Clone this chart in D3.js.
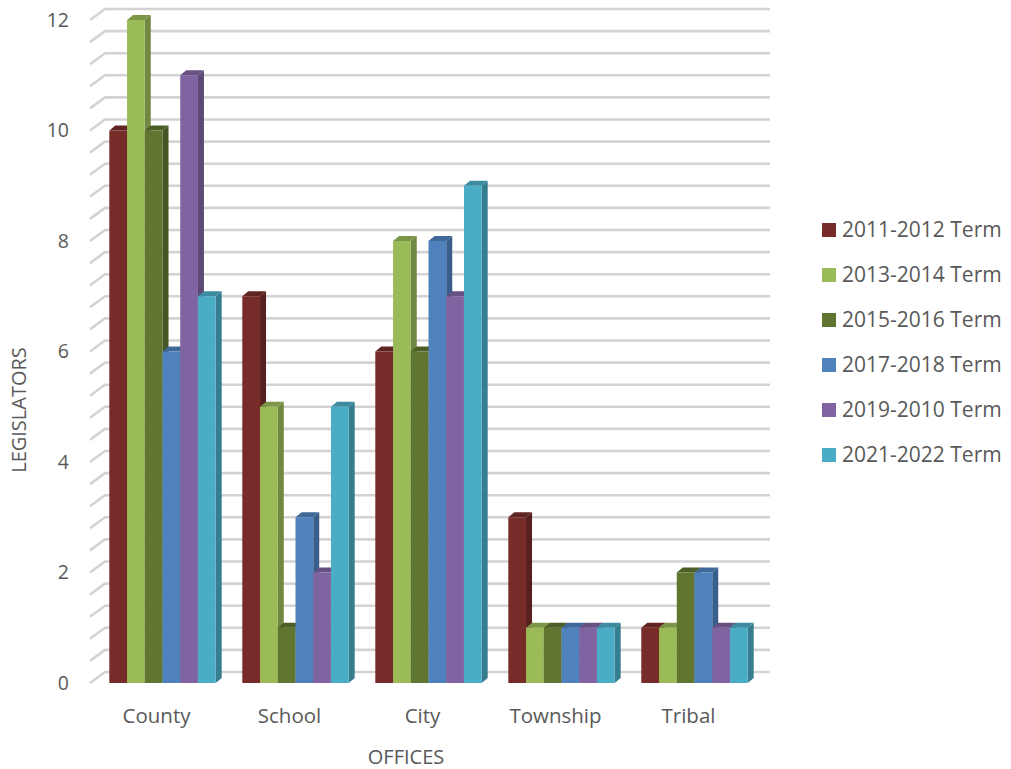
<!DOCTYPE html>
<html>
<head>
<meta charset="utf-8">
<script src="https://cdn.jsdelivr.net/npm/d3@7"></script>
<style>
  html, body { margin: 0; padding: 0; background: #fff; }
  svg { display: block; font-family: "Open Sans", sans-serif; }
</style>
</head>
<body>
<svg id="chart" width="1011" height="769"></svg>
<script>
const categories = ["County", "School", "City", "Township", "Tribal"];
const seriesNames = ["2011-2012 Term", "2013-2014 Term", "2015-2016 Term", "2017-2018 Term", "2019-2010 Term", "2021-2022 Term"];
const seriesColors = ["#772C2A", "#9BBB59", "#5F7530", "#4F81BD", "#8064A2", "#4BACC6"];
const s2011 = [10, 7, 6, 3, 1];
const s2013 = [12, 5, 8, 1, 1];
const s2015 = [10, 1, 6, 1, 2];
const s2017 = [6, 3, 8, 1, 2];
const s2019 = [11, 2, 7, 1, 1];
const s2021 = [7, 5, 9, 1, 1];
const seriesValues = [s2011, s2013, s2015, s2017, s2019, s2021];
const yTickLabels = [0, 2, 4, 6, 8, 10, 12];
const gridStep = 0.4;

const svg = d3.select("#chart");
const textColor = "#595959";

const plot = { left: 90, right: 755, top: 20, bottom: 683 };
const wall = { dx: 15, dy: -11 };
const barDepth = { dx: 6, dy: -5 };

const y = d3.scaleLinear().domain([0, 12]).range([plot.bottom, plot.top]);
const xFloor = d3.scaleBand().domain(categories).range([plot.left, plot.right]);
const x0 = d3.scaleBand().domain(categories).range([plot.left + 6, plot.right + 6])
  .paddingInner(0.2).paddingOuter(0.1);
const x1 = d3.scaleBand().domain(seriesNames).range([0, x0.bandwidth()]);

// gridlines
const gridVals = d3.range(0, 12 + 1e-6, gridStep);
const grid = svg.append("g");
gridVals.forEach(v => {
  const yy = y(v);
  grid.append("path")
    .attr("d", `M${plot.left},${yy} L${plot.left + wall.dx},${yy + wall.dy} L${plot.right + wall.dx},${yy + wall.dy}`)
    .attr("fill", "none")
    .attr("stroke", "#d3d3d3")
    .attr("stroke-width", 2.6)
    .attr("stroke-linejoin", "round");
});

// y tick labels
svg.append("g").selectAll("text").data(yTickLabels).join("text")
  .attr("x", 69)
  .attr("y", d => y(d))
  .attr("dy", "0.35em")
  .attr("text-anchor", "end")
  .attr("font-size", 19.5)
  .attr("fill", textColor)
  .text(d => d);

// bars
const shade = (c, k) => d3.color(c).darker(k).formatHex();
const barsG = svg.append("g");
categories.forEach((cat, ci) => {
  seriesNames.forEach((s, si) => {
    const v = seriesValues[si][ci];
    const xl = x0(cat) + x1(s);
    const w = x1.bandwidth();
    const yt = y(v), yb = y(0);
    const col = seriesColors[si];
    const g = barsG.append("g");
    g.append("path")
      .attr("d", `M${xl + w},${yt} L${xl + w + barDepth.dx},${yt + barDepth.dy} L${xl + w + barDepth.dx},${yb + barDepth.dy} L${xl + w},${yb} Z`)
      .attr("fill", shade(col, 0.9));
    g.append("path")
      .attr("d", `M${xl},${yt} L${xl + barDepth.dx},${yt + barDepth.dy} L${xl + w + barDepth.dx},${yt + barDepth.dy} L${xl + w},${yt} Z`)
      .attr("fill", shade(col, 0.6));
    g.append("rect")
      .attr("x", xl).attr("y", yt)
      .attr("width", w).attr("height", yb - yt)
      .attr("fill", col);
  });
});

// category labels
svg.append("g").selectAll("text").data(categories).join("text")
  .attr("x", d => xFloor(d) + xFloor.bandwidth() / 2)
  .attr("y", 723)
  .attr("text-anchor", "middle")
  .attr("font-size", 20.5)
  .attr("fill", textColor)
  .text(d => d);

// axis titles
svg.append("text")
  .attr("x", 406).attr("y", 764)
  .attr("text-anchor", "middle")
  .attr("font-size", 20)
  .attr("fill", textColor)
  .text("OFFICES");

svg.append("text")
  .attr("transform", "translate(26,410) rotate(-90)")
  .attr("text-anchor", "middle")
  .attr("font-size", 20)
  .attr("fill", textColor)
  .text("LEGISLATORS");

// legend
const legend = svg.append("g");
seriesNames.forEach((s, i) => {
  const cy = 230 + i * 45;
  legend.append("rect")
    .attr("x", 822).attr("y", cy - 7)
    .attr("width", 14).attr("height", 14)
    .attr("fill", seriesColors[i]);
  legend.append("text")
    .attr("x", 842).attr("y", cy)
    .attr("dy", "0.35em")
    .attr("font-size", 21)
    .attr("fill", textColor)
    .text(s);
});
</script>
</body>
</html>
